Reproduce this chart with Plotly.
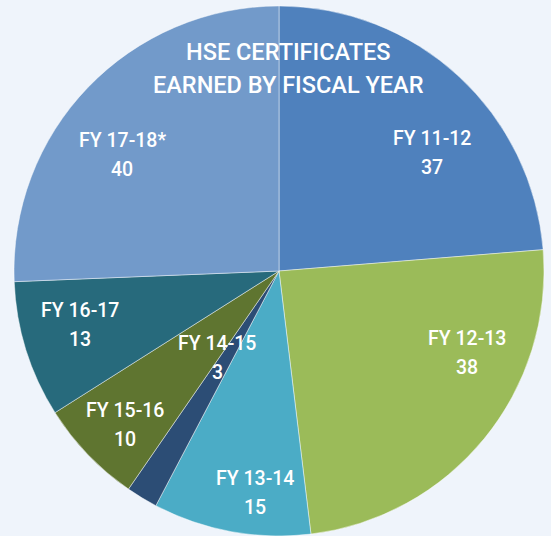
import plotly.graph_objects as go

categories = ["FY 11-12", "FY 12-13", "FY 13-14", "FY 14-15", "FY 15-16", "FY 16-17", "FY 17-18*"]
values = [37, 38, 15, 3, 10, 13, 40]
colors = ["#4F81BD", "#9BBB59", "#4BACC6", "#2C4D75", "#5F7530", "#276A7C", "#729ACA"]
title_lines = ["HSE CERTIFICATES", "EARNED BY FISCAL YEAR"]

W, H = 551, 536
# label centres (pixels from top-left) for the category line; value line sits below
label_pos = [(432, 138), (467, 338), (255, 478), (217, 343), (125, 410), (80, 310), (122, 140)]
line_gap = 29
title_pos = [(288, 52), (288, 85)]

FONT = "Roboto"

fig = go.Figure(go.Pie(
    labels=categories,
    values=values,
    sort=False,
    direction="clockwise",
    rotation=0,
    marker=dict(colors=colors, line=dict(color="rgba(255,255,255,0.45)", width=1)),
    textinfo="none",
    hoverinfo="label+value",
    domain=dict(x=[14 / W, 544 / W], y=[0, 530 / H]),
    showlegend=False,
))

annotations = []
for (px, py), cat, val in zip(label_pos, categories, values):
    annotations.append(dict(x=px / W, y=1 - py / H, xref="paper", yref="paper", text=cat,
                            showarrow=False, xanchor="center", yanchor="middle",
                            font=dict(family=FONT, size=19.5, color="white", weight=500)))
    annotations.append(dict(x=px / W, y=1 - (py + line_gap) / H, xref="paper", yref="paper", text=str(val),
                            showarrow=False, xanchor="center", yanchor="middle",
                            font=dict(family=FONT, size=19.5, color="white", weight=500)))
for (px, py), t in zip(title_pos, title_lines):
    annotations.append(dict(x=px / W, y=1 - py / H, xref="paper", yref="paper", text=t,
                            showarrow=False, xanchor="center", yanchor="middle",
                            font=dict(family=FONT, size=23.5, color="white", weight=500)))

fig.update_layout(
    width=W, height=H, autosize=False,
    margin=dict(l=0, r=0, t=0, b=0),
    paper_bgcolor="#EFF4FB",
    plot_bgcolor="#EFF4FB",
    annotations=annotations,
)

fig.write_html("out.html", config={"displayModeBar": False},
               post_script="document.body.style.margin='0';document.body.style.overflow='hidden';document.body.style.background='#EFF4FB';")
